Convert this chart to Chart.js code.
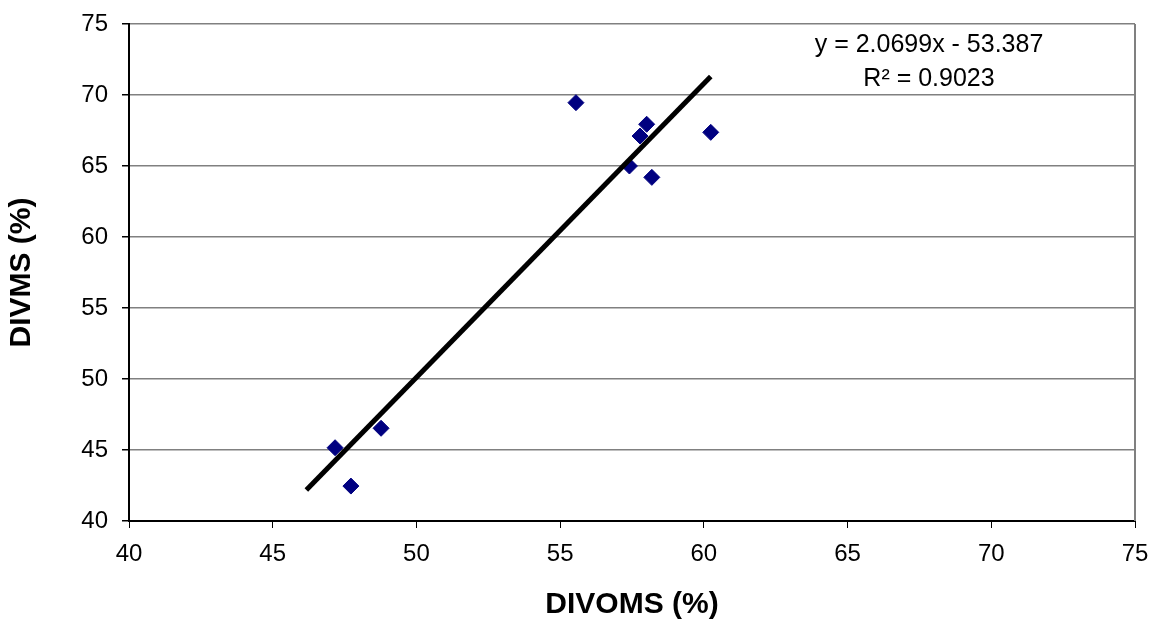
<!DOCTYPE html>
<html>
<head>
<meta charset="utf-8">
<script src="https://cdn.jsdelivr.net/npm/chart.js@4"></script>
<style>
  html, body { margin: 0; padding: 0; background: #fff; }
  #wrap { width: 1155px; height: 627px; }
</style>
</head>
<body>
<div id="wrap"><canvas id="myChart" width="1155" height="627"></canvas></div>
<script>
"use strict";
// measured points (DIVOMS %, DIVMS %)
const divoms = [47.17, 47.72, 48.77, 55.55, 57.41, 57.78, 58.01, 58.19, 60.24];
const divms  = [45.16, 42.46, 46.53, 69.46, 65.00, 67.11, 67.94, 64.20, 67.37];

// linear trendline as printed on the chart
const slope = 2.0699;
const intercept = -53.387;
const rSquared = 0.9023;
const trendX = [46.17, 60.24];

const axisTicks = [40, 45, 50, 55, 60, 65, 70, 75];

const points = divoms.map((x, i) => ({ x: x, y: divms[i] }));
const trend = trendX.map(x => ({ x: x, y: slope * x + intercept }));

// gray right border + equation text
const extras = {
    id: 'extras',
    afterDraw(chart) {
        const ctx = chart.ctx;
        const a = chart.chartArea;
        ctx.save();
        ctx.strokeStyle = '#808080';
        ctx.lineWidth = 2;
        ctx.beginPath();
        ctx.moveTo(a.right, a.top);
        ctx.lineTo(a.right, a.bottom);
        ctx.stroke();

        ctx.fillStyle = '#000';
        ctx.font = '25px "Liberation Sans", Arial, sans-serif';
        ctx.textAlign = 'center';
        ctx.textBaseline = 'middle';
        const cx = a.right - 206;
        ctx.fillText('y = ' + slope + 'x - ' + Math.abs(intercept), cx, a.top + 21);
        ctx.fillText('R\u00B2 = ' + rSquared, cx, a.top + 55);
        ctx.restore();
    }
};

let myChart = document.getElementById("myChart").getContext('2d');
let scatterChart = new Chart(myChart, {
    type: 'scatter',
    data: {
        datasets: [{
            label: 'data',
            data: points,
            pointStyle: 'rectRot',
            pointRadius: 8,
            pointBorderWidth: 1,
            backgroundColor: '#000080',
            borderColor: '#000080',
            order: 2
        }, {
            label: 'trend',
            type: 'line',
            data: trend,
            borderColor: '#000',
            borderWidth: 5,
            pointRadius: 0,
            fill: false,
            order: 1
        }]
    },
    options: {
        responsive: false,
        animation: false,
        layout: {
            padding: { left: 0, top: 24, right: 20, bottom: 0 }
        },
        plugins: {
            legend: { display: false },
            tooltip: { enabled: false }
        },
        scales: {
            x: {
                type: 'linear',
                min: 40,
                max: 75,
                afterBuildTicks: s => { s.ticks = axisTicks.map(v => ({ value: v })); },
                afterFit: s => { s.height = 106; s.paddingLeft = 0; s.paddingRight = 0; },
                grid: {
                    drawOnChartArea: false,
                    drawTicks: true,
                    tickLength: 7,
                    tickColor: '#000'
                },
                border: { color: '#000', width: 2 },
                ticks: {
                    color: '#000',
                    padding: 12,
                    maxRotation: 0,
                    font: { family: '"Liberation Sans", Arial', size: 24 }
                },
                title: {
                    display: true,
                    text: 'DIVOMS (%)',
                    color: '#000',
                    padding: { top: 0, bottom: 4 },
                    font: { family: '"Liberation Sans", Arial', size: 30, weight: 'bold' }
                }
            },
            y: {
                type: 'linear',
                min: 40,
                max: 75,
                afterBuildTicks: s => { s.ticks = axisTicks.map(v => ({ value: v })); },
                afterFit: s => { s.width = 129; s.paddingTop = 0; s.paddingBottom = 0; },
                grid: {
                    color: '#808080',
                    lineWidth: 1.5,
                    drawTicks: true,
                    tickLength: 7,
                    tickColor: '#000'
                },
                border: { color: '#000', width: 2 },
                ticks: {
                    color: '#000',
                    padding: 14,
                    font: { family: '"Liberation Sans", Arial', size: 24 }
                },
                title: {
                    display: true,
                    text: 'DIVMS (%)',
                    color: '#000',
                    padding: { top: 4, bottom: 0 },
                    font: { family: '"Liberation Sans", Arial', size: 30, weight: 'bold' }
                }
            }
        }
    },
    plugins: [extras]
});
</script>
</body>
</html>
